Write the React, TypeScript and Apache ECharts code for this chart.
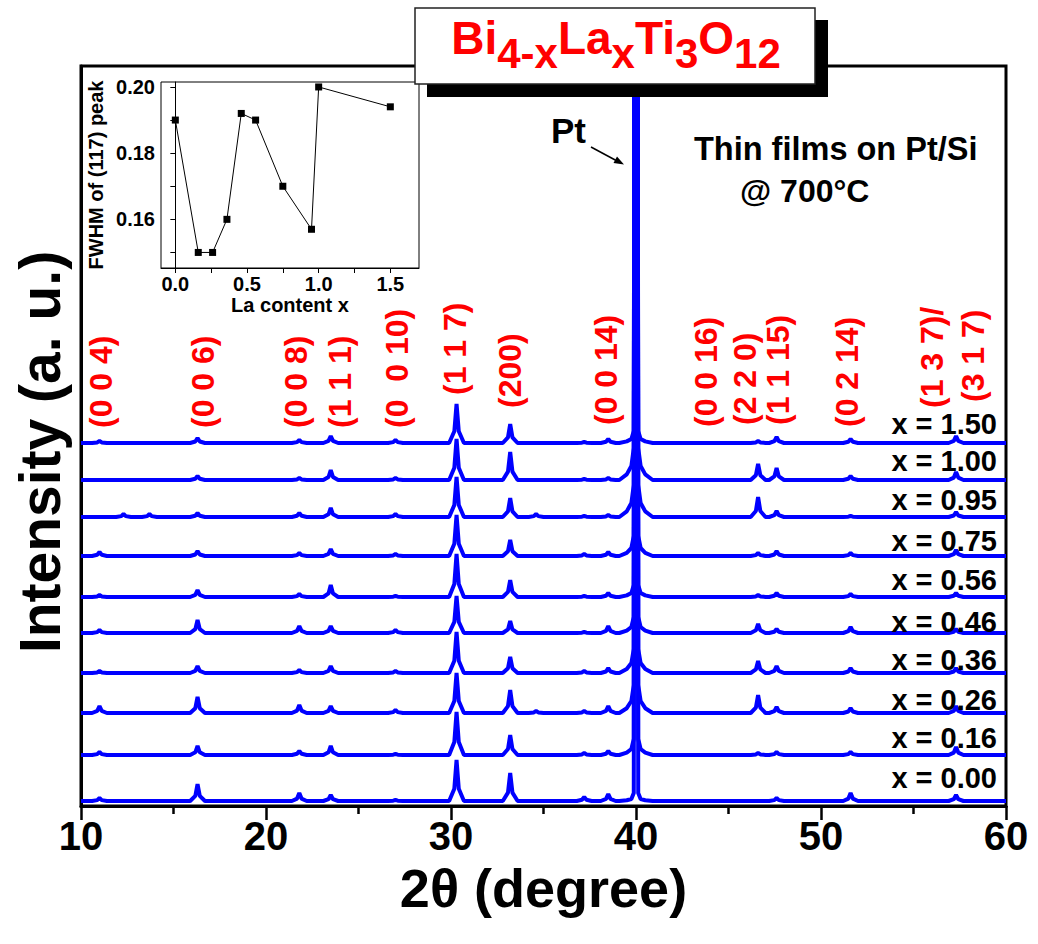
import React, { useEffect, useRef } from 'react';
import * as echarts from 'echarts';

const FONT = '"Liberation Sans", Arial, Helvetica, sans-serif';

// La content of each film (bottom to top)
const compositions = ['0.00', '0.16', '0.26', '0.36', '0.46', '0.56', '0.75', '0.95', '1.00', '1.50'];
// vertical stacking offset of each pattern (a. u.)
const traceOffsets = [5, 51, 93, 133, 173, 209, 250, 289, 326, 363];

// reflection positions (2θ, degree)
const peakPositions = [11.0, 12.3, 13.7, 16.3, 21.8, 23.5, 27.0, 30.3, 33.2, 34.6, 37.2, 38.5, 46.6, 47.6, 51.6, 57.3];
// peak heights above each pattern's background (a. u.), one row per composition
const peakHeights = [
  [3, 0, 0, 17, 8, 6, 1, 41, 28, 0, 4, 7, 0, 3, 8, 6],
  [3, 0, 0, 9, 4, 9, 1, 43, 20, 0, 2, 4, 2, 3, 3, 8],
  [7, 0, 0, 16, 8, 7, 3, 40, 23, 2, 2, 7, 18, 6, 5, 7],
  [2, 0, 0, 7, 3, 7, 2, 41, 16, 0, 2, 5, 12, 7, 5, 5],
  [3, 0, 0, 13, 7, 7, 3, 37, 12, 0, 1, 7, 9, 4, 6, 4],
  [2, 0, 0, 7, 3, 12, 1, 43, 17, 0, 1, 4, 2, 4, 3, 4],
  [4, 0, 0, 5, 3, 7, 2, 41, 16, 0, 2, 4, 3, 5, 3, 6],
  [0, 3, 3, 4, 4, 9, 3, 40, 19, 3, 1, 2, 20, 6, 1, 5],
  [0, 0, 0, 4, 2, 10, 2, 41, 28, 0, 1, 2, 16, 12, 4, 8],
  [2, 0, 0, 5, 3, 7, 3, 39, 19, 0, 1, 4, 2, 6, 4, 7],
];
// Pt(111) substrate peak
const ptPosition = 40.0;
const ptApex = 2000;
const ptShoulders = [2, 6, 12, 10, 6, 4, 8, 14, 14, 4];

// Miller index labels
const hklTexts = ['(0 0 4)', '(0 0 6)', '(0 0 8)', '(1 1 1)', '(0  0 10)', '(1 1 7)', '(200)', '(0 0 14)', '(0 0 16)', '(2 2 0)', '(1 1 15)', '(0 2 14)', '(1 3 7)/', '(3 1 7)'];
const hklPositions = [11.1, 16.6, 21.6, 24.0, 27.1, 30.2, 33.2, 38.4, 43.8, 45.9, 47.7, 51.4, 56.0, 58.2];

// inset: FWHM of the (117) peak
const insetLa = [0, 0.16, 0.26, 0.36, 0.46, 0.56, 0.75, 0.95, 1.0, 1.5];
const insetFwhm = [0.19, 0.15, 0.15, 0.16, 0.192, 0.19, 0.17, 0.157, 0.2, 0.194];
const insetXLabels = [0, 0.5, 1.0, 1.5];
const insetXTicks = [0, 0.25, 0.5, 0.75, 1.0, 1.25, 1.5];
const insetYLabels = [0.16, 0.18, 0.2];
const insetYTicks = [0.15, 0.16, 0.17, 0.18, 0.19, 0.2];

// title pieces: [text, isSubscript]
const titlePieces: [string, boolean][] = [['Bi', false], ['4-x', true], ['La', false], ['x', true], ['Ti', false], ['3', true], ['O', false], ['12', true]];

// layout (pixels) of annotations
const hklBottoms = [428, 428, 428, 428, 428, 395, 408, 425, 427, 425, 425, 427, 408, 402];
const compLabelYs = [778, 738, 700, 660, 622, 580, 541, 500, 461, 424];

function buildTrace(i: number): [number, number][] {
  const off = traceOffsets[i];
  const pts: [number, number][] = [[10, off], [60, off]];
  peakPositions.forEach((p, k) => {
    const h = peakHeights[i][k];
    if (!h) return;
    pts.push([p - 0.4, off], [p - 0.12, off + 0.3 * h], [p, off + h], [p + 0.12, off + 0.3 * h], [p + 0.4, off]);
  });
  const s = ptShoulders[i];
  pts.push(
    [ptPosition - 0.9, off], [ptPosition - 0.5, off + 0.4 * s], [ptPosition - 0.25, off + s],
    [ptPosition - 0.12, off + 2 * s + 4], [ptPosition, ptApex], [ptPosition + 0.12, off + 2 * s + 4],
    [ptPosition + 0.25, off + s], [ptPosition + 0.5, off + 0.4 * s], [ptPosition + 0.9, off]
  );
  pts.sort((a, b) => a[0] - b[0]);
  return pts;
}

function measure(text: string, size: number): number {
  const c = document.createElement('canvas').getContext('2d');
  if (!c) return text.length * size * 0.55;
  c.font = `bold ${size}px ${FONT}`;
  return c.measureText(text).width;
}

export default function App() {
  const ref = useRef<HTMLDivElement>(null);
  useEffect(() => {
    const chart = echarts.init(ref.current!, null, { renderer: 'svg' });
    const traces = compositions.map((c, i) => ({
      type: 'line',
      name: 'x = ' + c,
      xAxisIndex: 0,
      yAxisIndex: 0,
      data: buildTrace(i),
      showSymbol: false,
      symbol: 'none',
      lineStyle: { color: '#0000ff', width: 4 },
      clip: true,
      z: 2,
    }));
    const option: any = {
      animation: false,
      backgroundColor: '#fff',
      grid: [
        { left: 81, right: 32, top: 66, bottom: 138, show: true, borderColor: '#000', borderWidth: 3, backgroundColor: 'transparent' },
        { left: 161, top: 82, width: 258, height: 186, show: true, borderColor: '#000', borderWidth: 1, backgroundColor: 'transparent' },
      ],
      xAxis: [
        {
          gridIndex: 0, type: 'value', min: 10, max: 60, interval: 10,
          axisLine: { show: true, lineStyle: { color: '#000', width: 3 } },
          axisTick: { show: true, inside: false, length: 14, lineStyle: { color: '#000', width: 2.5 } },
          minorTick: { show: true, splitNumber: 2, length: 8, lineStyle: { color: '#000', width: 2.5 } },
          splitLine: { show: false },
          axisLabel: { color: '#000', fontSize: 40, fontWeight: 'bold', fontFamily: FONT, margin: 10 },
          name: '2θ (degree)', nameLocation: 'middle', nameGap: 52,
          nameTextStyle: { color: '#000', fontSize: 54, fontWeight: 'bold', fontFamily: FONT },
        },
        {
          gridIndex: 1, type: 'value', min: -0.1, max: 1.7,
          axisLine: { show: true, lineStyle: { color: '#000', width: 1 } },
          axisTick: { show: true, customValues: insetXTicks, length: 5, lineStyle: { color: '#000', width: 1 } },
          splitLine: { show: false },
          axisLabel: { customValues: insetXLabels, formatter: (v: number) => v.toFixed(1), color: '#000', fontSize: 20, fontWeight: 'bold', fontFamily: FONT, margin: 6 },
          name: 'La content x', nameLocation: 'middle', nameGap: 26,
          nameTextStyle: { color: '#000', fontSize: 20, fontWeight: 'bold', fontFamily: FONT },
        },
      ],
      yAxis: [
        {
          gridIndex: 0, type: 'value', min: 0, max: 740,
          axisLine: { show: true, lineStyle: { color: '#000', width: 3 } },
          axisTick: { show: false }, axisLabel: { show: false }, splitLine: { show: false },
        },
        {
          gridIndex: 1, type: 'value', min: 0.1453, max: 0.2015,
          axisLine: { show: true, lineStyle: { color: '#000', width: 1 } },
          axisTick: { show: true, customValues: insetYTicks, length: 5, lineStyle: { color: '#000', width: 1 } },
          splitLine: { show: false },
          axisLabel: { customValues: insetYLabels, formatter: (v: number) => v.toFixed(2), color: '#000', fontSize: 20, fontWeight: 'bold', fontFamily: FONT, margin: 6 },
          name: 'FWHM of (117) peak', nameLocation: 'middle', nameGap: 55, nameRotate: 90,
          nameTextStyle: { color: '#000', fontSize: 20, fontWeight: 'bold', fontFamily: FONT },
        },
      ],
      series: [
        ...traces,
        {
          type: 'line', xAxisIndex: 1, yAxisIndex: 1,
          data: insetLa.map((x, i) => [x, insetFwhm[i]]),
          symbol: 'rect', symbolSize: 7, showSymbol: true,
          itemStyle: { color: '#000' }, lineStyle: { color: '#000', width: 1 }, z: 3,
        },
      ],
    };
    chart.setOption(option);

    const gfx: any[] = [];
    // main y axis title
    gfx.push({
      type: 'text', x: 40, y: 452, rotation: Math.PI / 2, z: 50,
      style: { text: 'Intensity (a. u.)', align: 'center', verticalAlign: 'middle', fill: '#000', fontSize: 57, fontWeight: 'bold', fontFamily: FONT },
    });
    // hkl labels
    hklTexts.forEach((t, i) => {
      const px = chart.convertToPixel({ gridIndex: 0 } as any, [hklPositions[i], 0]) as number[];
      gfx.push({
        type: 'text', x: px[0], y: hklBottoms[i], rotation: Math.PI / 2, z: 50,
        style: { text: t, align: 'left', verticalAlign: 'middle', fill: '#ff0000', fontSize: 32, fontWeight: 'bold', fontFamily: FONT },
      });
    });
    // composition labels
    compositions.forEach((c, i) => {
      gfx.push({
        type: 'text', x: 997, y: compLabelYs[i], z: 50,
        style: { text: 'x = ' + c, align: 'right', verticalAlign: 'middle', fill: '#000', fontSize: 29, fontWeight: 'bold', fontFamily: FONT },
      });
    });
    // Pt annotation
    gfx.push({ type: 'text', x: 551, y: 130, z: 50, style: { text: 'Pt', align: 'left', verticalAlign: 'middle', fill: '#000', fontSize: 35, fontWeight: 'bold', fontFamily: FONT } });
    gfx.push({ type: 'line', z: 50, shape: { x1: 591, y1: 147, x2: 618, y2: 161.5 }, style: { stroke: '#000', lineWidth: 1.5 } });
    gfx.push({ type: 'polygon', z: 50, shape: { points: [[624, 164.5], [613.5, 163], [617, 156.5]] }, style: { fill: '#000' } });
    // sample description
    gfx.push({ type: 'text', x: 694, y: 149, z: 50, style: { text: 'Thin films on Pt/Si', align: 'left', verticalAlign: 'middle', fill: '#000', fontSize: 32.5, fontWeight: 'bold', fontFamily: FONT } });
    gfx.push({ type: 'text', x: 740, y: 191, z: 50, style: { text: '@ 700°C', align: 'left', verticalAlign: 'middle', fill: '#000', fontSize: 32, fontWeight: 'bold', fontFamily: FONT } });
    // title box
    gfx.push({ type: 'rect', z: 60, shape: { x: 427, y: 20, width: 401, height: 77 }, style: { fill: '#000' } });
    gfx.push({ type: 'rect', z: 61, shape: { x: 415, y: 8, width: 400, height: 76 }, style: { fill: '#fff', stroke: '#222', lineWidth: 1.5 } });
    const normalSize = 46;
    const subSize = 42;
    const widths = titlePieces.map(([t, sub]) => measure(t, sub ? subSize : normalSize));
    const total = widths.reduce((a, b) => a + b, 0);
    let cx = 616 - total / 2;
    titlePieces.forEach(([t, sub], i) => {
      gfx.push({
        type: 'text', x: cx, y: sub ? 53 : 37.5, z: 62,
        style: { text: t, align: 'left', verticalAlign: 'middle', fill: '#ff0000', fontSize: sub ? subSize : normalSize, fontWeight: 'bold', fontFamily: FONT },
      });
      cx += widths[i];
    });
    chart.setOption({ graphic: gfx });
    return () => chart.dispose();
  }, []);
  return <div ref={ref} style={{ position: 'absolute', left: 0, top: 0, width: 1038, height: 944, background: '#fff' }} />;
}
